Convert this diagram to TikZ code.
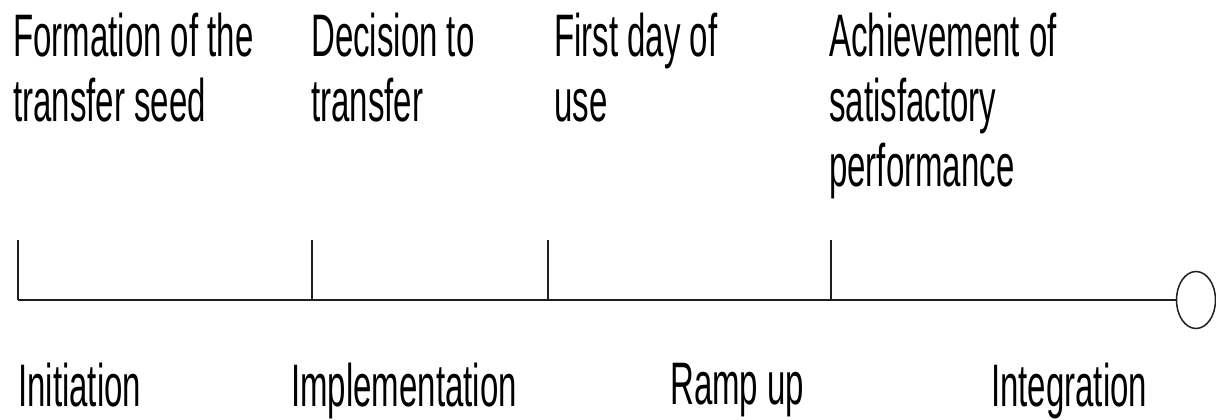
\documentclass[tikz,border=0pt]{standalone}
\usepackage{fontspec}
\setmainfont{Liberation Sans}[FakeStretch=0.55]
\usetikzlibrary{shapes.geometric}

\tikzset{
  label text/.style={inner sep=0pt, anchor=north west, align=left,
    font=\fontsize{60}{65}\selectfont, text=black},
  axis line/.style={draw=black!88, line width=2pt},
  milestone/.style={draw=black!88, line width=2pt},
  end mark/.style={draw=black!88, line width=1.5pt, ellipse, inner sep=0pt,
    minimum width=39pt, minimum height=57pt}
}

\begin{document}
\begin{tikzpicture}[x=1pt, y=-1pt]
  \useasboundingbox (0,0) rectangle (1216,420);

  % events above the time line
  \node[label text] (ev1) at (13,13) {Formation of the\\transfer seed};
  \node[label text] (ev2) at (311,13) {Decision to\\transfer};
  \node[label text] (ev3) at (554,13) {First day of\\use};
  \node[label text] (ev4) at (829,13) {Achievement of\\satisfactory\\performance};

  % time line with its milestones
  \coordinate (start) at (18,300);
  \coordinate (m2) at (312,300);
  \coordinate (m3) at (548,300);
  \coordinate (m4) at (831,300);
  \coordinate (m1top) at (18,240);
  \coordinate (m2top) at (312,240);
  \coordinate (m3top) at (548,240);
  \coordinate (m4top) at (831,240);
  \node[end mark] (end) at (1196,300) {};

  \draw[axis line] (start) -- (end);
  \draw[milestone] (m1top) -- (start);
  \draw[milestone] (m2top) -- (m2);
  \draw[milestone] (m3top) -- (m3);
  \draw[milestone] (m4top) -- (m4);

  % phases below the time line
  \node[label text] (ph1) at (18,363) {Initiation};
  \node[label text] (ph2) at (291,363) {Implementation};
  \node[label text] (ph3) at (670,363) {Ramp up};
  \node[label text] (ph4) at (991,363) {Integration};
\end{tikzpicture}
\end{document}
